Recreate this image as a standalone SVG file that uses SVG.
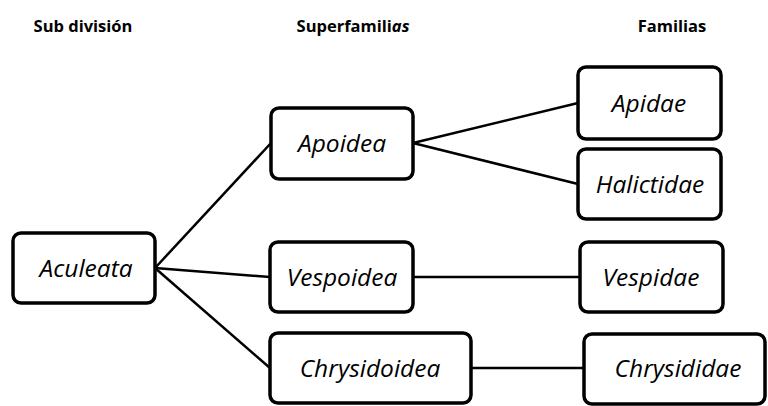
<svg xmlns="http://www.w3.org/2000/svg" width="768" height="406" viewBox="0 0 768 406">
<style>
.box{fill:#fff;stroke:#000;stroke-width:3.5}
.lbl{font-family:"Open Sans","Liberation Sans",sans-serif;font-style:italic;font-size:24.5px;text-anchor:middle;fill:#000}
.hdr{font-family:"Open Sans","Liberation Sans",sans-serif;font-weight:bold;font-size:16.5px;text-anchor:middle;fill:#000}
.con{stroke:#000;stroke-width:2.5;fill:none}
</style>
<rect width="768" height="406" fill="#fff"/>
<g id="headers">
<text class="hdr" x="83" y="32">Sub división</text>
<text class="hdr" x="353" y="32">Superfamili<tspan font-style="italic">as</tspan></text>
<text class="hdr" x="672" y="32">Familias</text>
</g>
<g id="connectors">
<line class="con" x1="155" y1="268" x2="271" y2="143"/>
<line class="con" x1="155" y1="268" x2="270" y2="277"/>
<line class="con" x1="155" y1="268" x2="270" y2="368"/>
<line class="con" x1="413" y1="143" x2="578" y2="103"/>
<line class="con" x1="413" y1="143" x2="578" y2="184"/>
<line class="con" x1="413" y1="277" x2="580" y2="277"/>
<line class="con" x1="471" y1="368" x2="584" y2="368"/>
</g>
<g id="aculeata"><rect class="box" x="13" y="233" width="142" height="70" rx="8"/><text class="lbl" x="86" y="277">Aculeata</text></g>
<g id="apoidea"><rect class="box" x="271" y="108" width="142" height="71" rx="8"/><text class="lbl" x="342" y="152">Apoidea</text></g>
<g id="apidae"><rect class="box" x="578" y="67" width="143" height="72" rx="8"/><text class="lbl" x="649" y="112">Apidae</text></g>
<g id="halictidae"><rect class="box" x="578" y="149" width="143" height="70" rx="8"/><text class="lbl" x="650" y="193">Halictidae</text></g>
<g id="vespoidea"><rect class="box" x="270" y="242" width="143" height="70" rx="8"/><text class="lbl" x="342" y="286">Vespoidea</text></g>
<g id="vespidae"><rect class="box" x="580" y="242" width="143" height="70" rx="8"/><text class="lbl" x="651" y="286">Vespidae</text></g>
<g id="chrysidoidea"><rect class="box" x="270" y="333" width="201" height="70" rx="8"/><text class="lbl" x="370" y="377">Chrysidoidea</text></g>
<g id="chrysididae"><rect class="box" x="584" y="334" width="181" height="70" rx="8"/><text class="lbl" x="678" y="377">Chrysididae</text></g>
</svg>
